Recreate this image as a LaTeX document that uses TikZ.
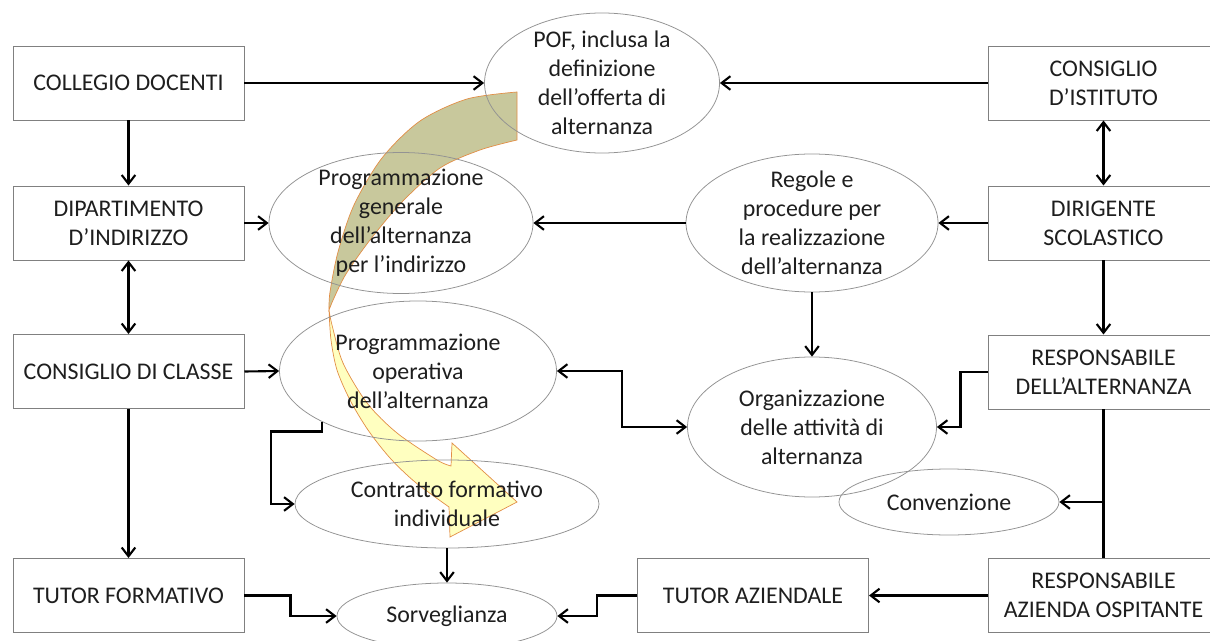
\documentclass[tikz,border=0pt]{standalone}
\usepackage{fontspec}
\setmainfont{Carlito}
\usepackage{tikz}
\usetikzlibrary{positioning,arrows.meta,shapes.geometric,calc}

\definecolor{boxgray}{RGB}{128,128,128}
\definecolor{backolive}{RGB}{200,200,156}
\definecolor{frontyel}{RGB}{255,255,192}
\definecolor{arrorange}{RGB}{226,142,70}
\definecolor{ink}{RGB}{30,30,30}

\tikzset{
  unit/.style={draw=boxgray, line width=0.7pt, minimum width=57.75mm, minimum height=18.5mm,
               align=center, inner sep=2pt, text=ink, font=\fontsize{17}{20.6}\selectfont},
  oval/.style={ellipse, draw=gray!85, line width=0.55pt, inner sep=0pt},
  lbl/.style={align=center, text=ink, inner sep=0pt, font=\fontsize{17}{20.6}\selectfont},
  wire/.style={line width=1.5pt},
  link/.style={wire, -{Straight Barb[length=2.2mm,width=3.4mm]}},
  twin/.style={wire, {Straight Barb[length=2.2mm,width=3.4mm]}-{Straight Barb[length=2.2mm,width=3.4mm]}},
}

\begin{document}
\begin{tikzpicture}[x=0.25mm, y=-0.25mm]
  \useasboundingbox (0,0) rectangle (1210,641);
  \clip (0,0) rectangle (1210,641);

  % curved block arrow: back side, then front side
  \filldraw[fill=backolive, draw=arrorange, line width=0.5pt]
    plot[smooth] coordinates {(517,92) (467,99) (420,121) (382,158) (354,205) (338,252) (330,292) (329,310)}
    -- plot[smooth] coordinates {(329,310) (334,298) (346,274) (370,240) (402,202) (440,168) (480,150) (517,140)}
    -- cycle;
  \filldraw[fill=frontyel, draw=arrorange, line width=0.5pt]
    plot[smooth] coordinates {(329,310) (331,340) (337,370) (350,400) (368,430) (390,458) (415,482) (449,507)}
    -- (450,537) -- (517,502) -- (452,443) -- (451,466)
    -- plot[smooth] coordinates {(451,466) (437,460) (397,433) (367,403) (343,363) (332,325) (329,310)}
    -- cycle;

  % boxes
  \node[unit] (cd)  at (128.5,83)    {COLLEGIO DOCENTI};
  \node[unit] (dip) at (128.5,223)   {DIPARTIMENTO\\D’INDIRIZZO};
  \node[unit] (ccl) at (128.5,371.5) {CONSIGLIO DI CLASSE};
  \node[unit] (tf)  at (128.5,595.5) {TUTOR FORMATIVO};
  \node[unit] (cis) at (1103.5,83)   {CONSIGLIO\\D’ISTITUTO};
  \node[unit] (dir) at (1103.5,223)  {DIRIGENTE\\SCOLASTICO};
  \node[unit] (ral) at (1103.5,372)  {RESPONSABILE\\DELL’ALTERNANZA};
  \node[unit] (raz) at (1103.5,595.5) {RESPONSABILE\\AZIENDA OSPITANTE};
  \node[unit] (taz) at (753,595.5)   {TUTOR AZIENDALE};

  % ellipses
  \node[oval, minimum width=58.75mm, minimum height=35mm]   (pof)  at (602,83)  {};
  \node[oval, minimum width=66mm,    minimum height=35.25mm] (pgen) at (401,223) {};
  \node[oval, minimum width=63mm,    minimum height=34.5mm] (reg)  at (812,223) {};
  \node[oval, minimum width=69.25mm, minimum height=35mm]   (pop)  at (418,371) {};
  \node[oval, minimum width=62.25mm, minimum height=35mm]   (org)  at (812,427) {};
  \node[oval, minimum width=55mm,    minimum height=16.5mm] (conv) at (949,502) {};
  \node[oval, minimum width=76mm,    minimum height=22mm]   (cfi)  at (447,504) {};
  \node[oval, minimum width=55mm,    minimum height=16.5mm] (sorv) at (447,616) {};

  \node[lbl] (pof-t)  at (pof)  {POF, inclusa la\\definizione\\dell’offerta di\\alternanza};
  \node[lbl] (pgen-t) at (pgen) {Programmazione\\generale\\dell’alternanza\\per l’indirizzo};
  \node[lbl] (reg-t)  at (reg)  {Regole e\\procedure per\\la realizzazione\\dell’alternanza};
  \node[lbl] (pop-t)  at (pop)  {Programmazione\\operativa\\dell’alternanza};
  \node[lbl] (org-t)  at (org)  {Organizzazione\\delle attività di\\alternanza};
  \node[lbl] (conv-t) at (conv) {Convenzione};
  \node[lbl] (cfi-t)  at (cfi)  {Contratto formativo\\individuale};
  \node[lbl] (sorv-t) at (sorv) {Sorveglianza};

  % connectors
  \draw[link] (cd.east) -- (pof.west);
  \draw[link] (cis.west) -- (pof.east);
  \draw[link] (cd.south) -- (dip.north);
  \draw[twin] (cis.south) -- (dir.north);
  \draw[link] (dip.east) -- (pgen.west);
  \draw[link] (dir.west) -- (reg.east);
  \draw[link] (reg.west) -- (pgen.east);
  \draw[twin] (dip.south) -- (ccl.north);
  \draw[link] (dir.south) -- (ral.north);
  \draw[link] (ccl.east) -- (pop.west);
  \draw[link] (reg.south) -- (org.north);
  \draw[twin] (pop.east) -- ++(65,0) |- (org.west);
  \draw[link] (ral.west) -- ++(-27,0) |- (org.east);
  \draw[wire] (ral.south) -- (raz.north);
  \draw[link] (ral.south |- conv.east) -- (conv.east);
  \draw[link] (raz.west) -- (taz.east);
  \draw[link] (taz.west) -- ++(-40,0) |- (sorv.east);
  \draw[link] (tf.east) -- ++(46,0) |- (sorv.west);
  \draw[link] (ccl.south) -- (tf.north);
  \draw[link] (pop.208) |- ++(-51,9.5) |- (cfi.west);
  \draw[link] (cfi.south) -- (sorv.north);
\end{tikzpicture}
\end{document}
